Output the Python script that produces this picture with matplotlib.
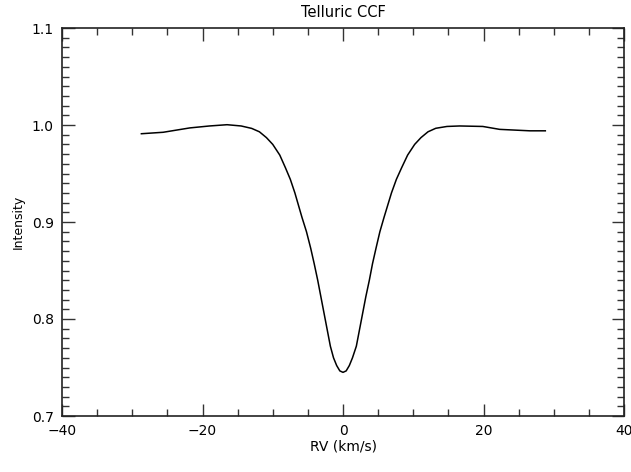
import numpy as np
import matplotlib
matplotlib.use("Agg")
import matplotlib.pyplot as plt
from matplotlib.ticker import MultipleLocator

# values
rv = [-28.7, -25.6, -21.8, -19.0, -16.5, -14.5, -13.0, -11.9, -10.9, -10.0,
      -9.0, -8.2, -7.5, -6.85, -5.85, -5.2, -4.6, -4.1, -3.6, -3.15, -2.7, -2.25,
      -1.8, -1.35, -0.9, -0.45, 0.0, 0.45, 0.9, 1.35, 1.9, 2.35, 2.8, 3.25, 3.75,
      4.2, 4.7, 5.25, 5.85, 6.9, 7.6, 8.35, 9.2, 10.2, 11.1,
      12.1, 13.2, 14.8, 16.6, 19.9, 22.3, 26.6, 28.8]
intensity = [0.991, 0.9925, 0.997, 0.999, 1.0003, 0.999, 0.9965, 0.993, 0.987, 0.980,
             0.969, 0.956, 0.944, 0.930, 0.905, 0.890, 0.873, 0.857, 0.840, 0.823, 0.806, 0.789,
             0.772, 0.760, 0.752, 0.7465, 0.745, 0.7465, 0.752, 0.760, 0.772, 0.789, 0.806, 0.823, 0.840,
             0.857, 0.873, 0.890, 0.905, 0.930, 0.944, 0.956, 0.969, 0.980, 0.987,
             0.993, 0.9966, 0.9985, 0.999, 0.9985, 0.9955, 0.994, 0.994]

fig = plt.figure(figsize=(6.31, 4.72), dpi=100)
ax = fig.add_axes([62 / 631, 1 - 416 / 472, (624 - 62) / 631, (416 - 28) / 472])

ax.plot(rv, intensity, color="black", lw=1.1)

ax.set_xlim(-40, 40)
ax.set_ylim(0.7, 1.1)
ax.xaxis.set_major_locator(MultipleLocator(20))
ax.xaxis.set_minor_locator(MultipleLocator(5))
ax.yaxis.set_major_locator(MultipleLocator(0.1))
ax.yaxis.set_minor_locator(MultipleLocator(0.01))
ax.yaxis.set_major_formatter(plt.FuncFormatter(lambda v, p: f"{v:.1f}"))
ax.xaxis.set_major_formatter(plt.FuncFormatter(lambda v, p: f"{v:.0f}".replace("-", "\u2212")))

ax.tick_params(which="both", direction="in", top=True, right=True, color="#333333", width=1)
ax.tick_params(which="major", length=9, labelsize=10, pad=6)
ax.tick_params(which="minor", length=5)
for s in ax.spines.values():
    s.set_color("#222222")
    s.set_linewidth(1.2)

ax.set_xlabel("RV (km/s)", fontsize=10, labelpad=1)
ax.set_ylabel("Intensity", fontsize=9, labelpad=5)
ax.set_title("Telluric CCF", fontsize=10.5, pad=8)

fig.savefig("out.png", dpi=100)
